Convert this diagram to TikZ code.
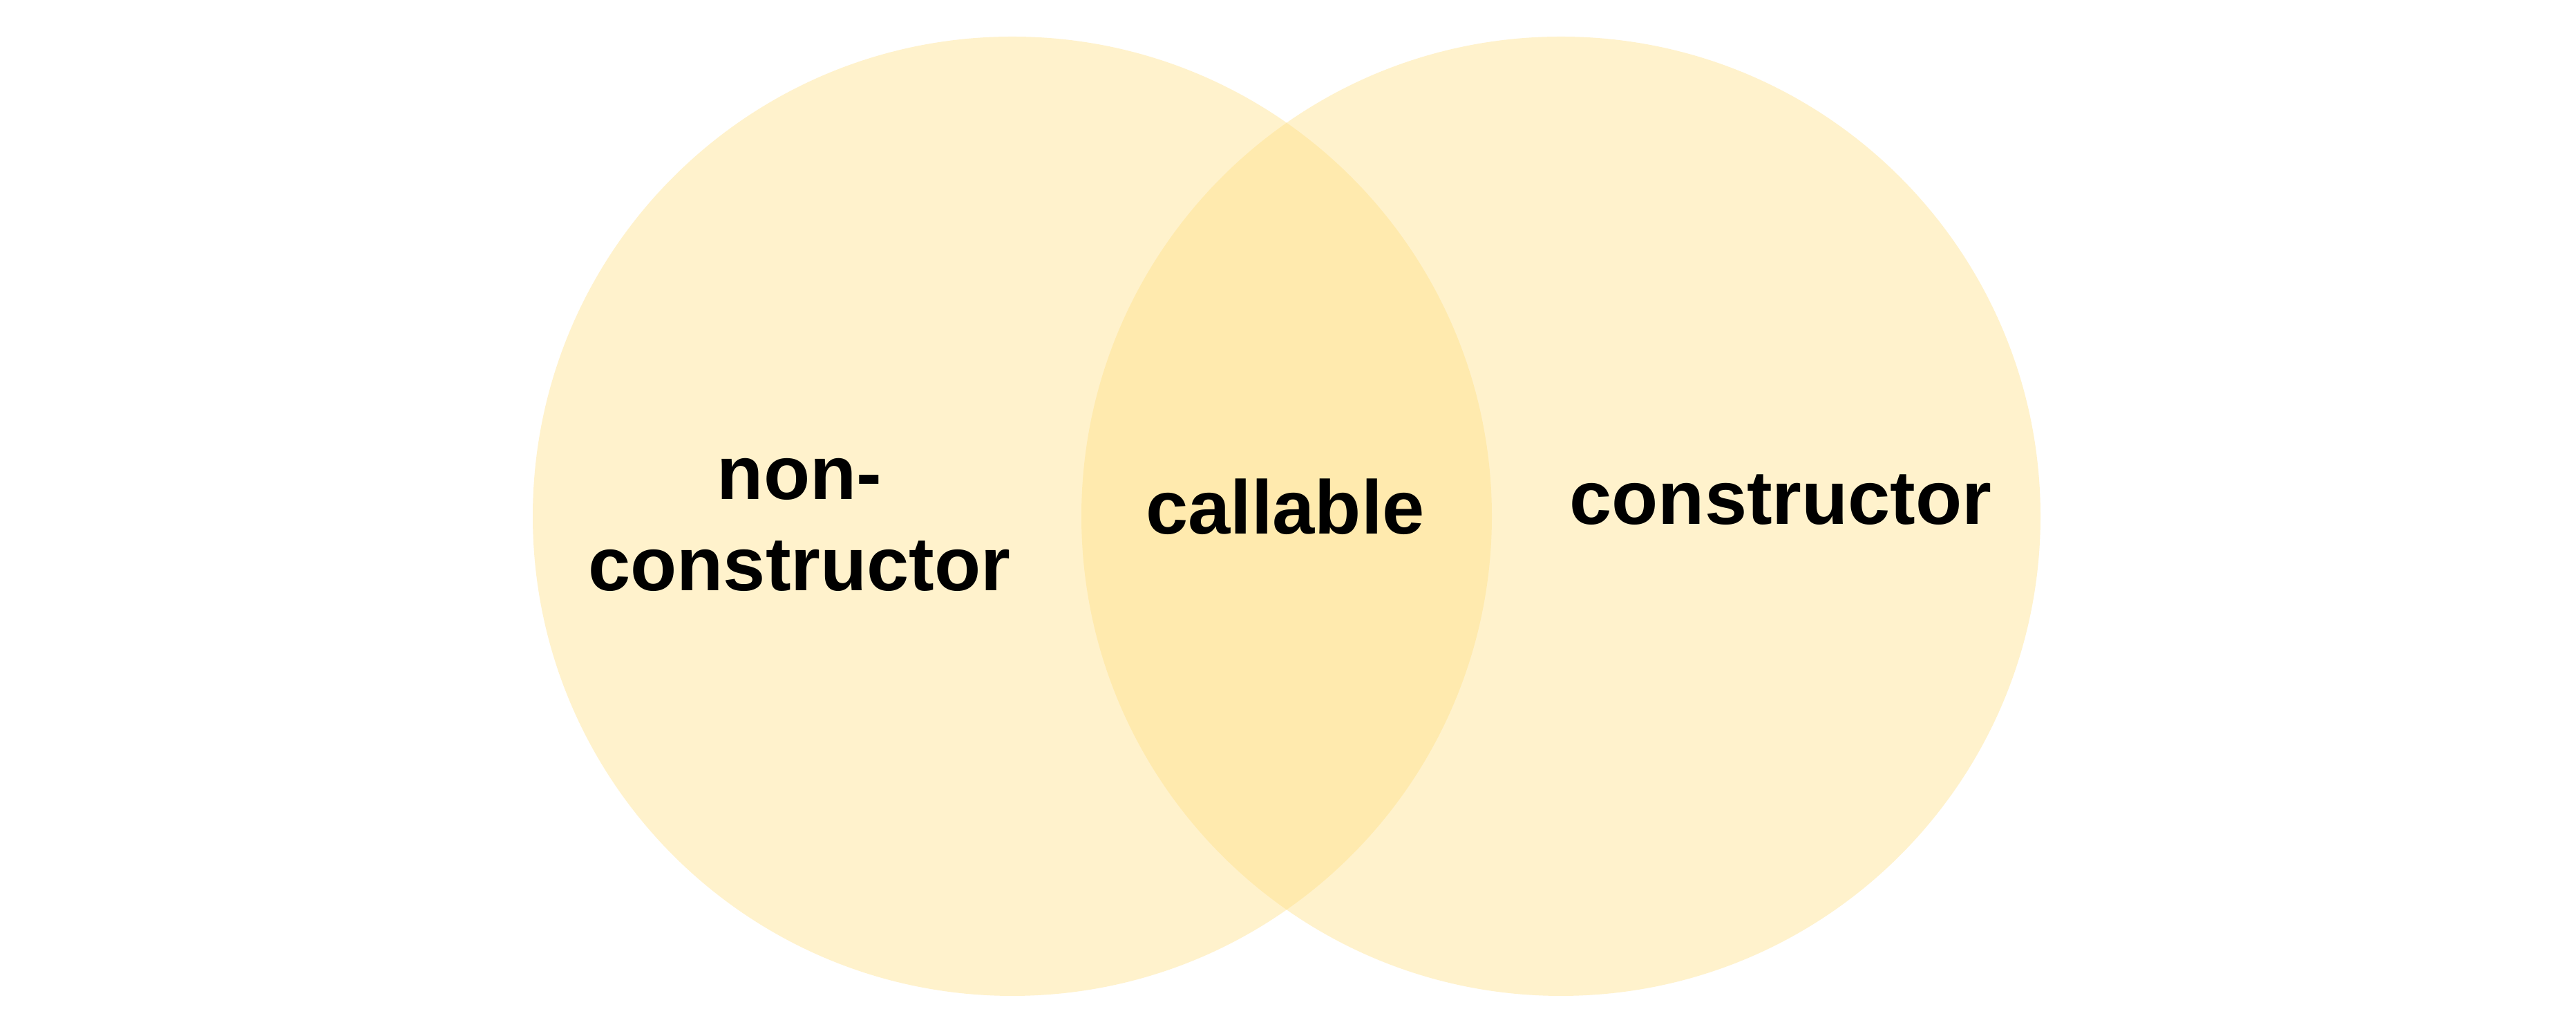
\documentclass[tikz,border=0pt]{standalone}
\usepackage{fontspec}
\setmainfont{Liberation Sans}
\definecolor{setfill}{HTML}{FFDE80}

\begin{document}
\begin{tikzpicture}[
   set/.style={circle,fill=setfill,fill opacity=0.4,draw=none,minimum size=13.88cm,inner sep=0pt},
   slabel/.style={anchor=base,align=center,inner sep=0pt,font=\bfseries\fontsize{31.3}{37.6}\selectfont},
   ]
   \useasboundingbox (0,0) rectangle (37.28,14.99);
   \node[set] (nonctor) at (14.65,7.52) {};
   \node[set] (ctor) at (22.59,7.52) {};
   \node[slabel] (lnon) at (11.57,6.44) {non-\\constructor};
   \node[slabel] (lcall) at (18.60,7.26) {callable};
   \node[slabel] (lctor) at (25.77,7.40) {constructor};
\end{tikzpicture}
\end{document}
